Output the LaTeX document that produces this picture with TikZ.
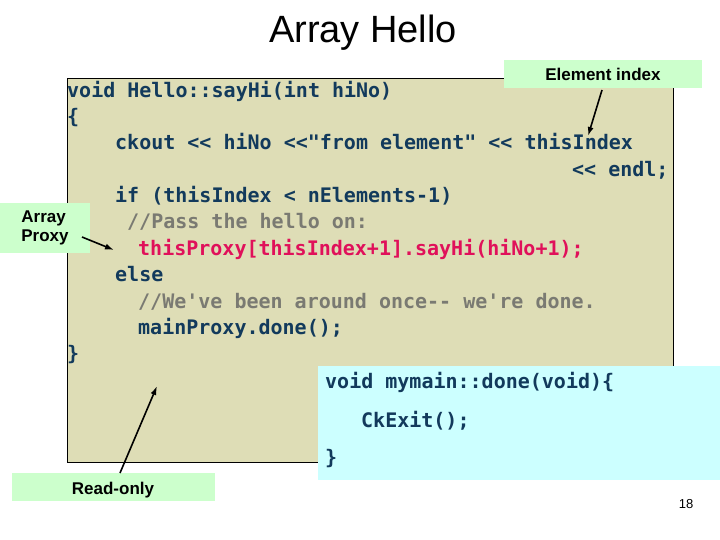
\documentclass[tikz,border=0pt]{standalone}
\usepackage{fontspec}
\setmainfont{Liberation Sans}
\newfontfamily\codefont{DejaVu Sans Mono}
\begin{document}
\begin{tikzpicture}[x=1pt,y=-1pt,
  code/.style={anchor=base west,inner sep=0pt,font=\codefont\bfseries\fontsize{20}{22}\selectfont,text=codeblue},
  cmt/.style={code,text=cmtgray},
  lbl/.style={fill=lblgreen,inner sep=0pt,font=\bfseries\fontsize{17}{19}\selectfont},
  arr/.style={-{Latex[length=9pt,width=6pt]},line width=1.6pt,black}]
\usetikzlibrary{arrows.meta}
\definecolor{codeblue}{HTML}{123A5C}
\definecolor{cmtgray}{HTML}{7A7A72}
\definecolor{codered}{HTML}{E0105A}
\definecolor{tan}{HTML}{DEDDB6}
\definecolor{lblgreen}{HTML}{CCFFCC}
\definecolor{cyanbox}{HTML}{CCFFFF}
\useasboundingbox (0,0) rectangle (720,540);
\node (title) at (363,33) {\fontsize{38}{42}\selectfont Array Hello};
\node (codebox) [draw=black,fill=tan,minimum width=606pt,minimum height=384pt,inner sep=0pt,anchor=north west] at (67,78) {};
\node (l1) [code] at (67,98) {void Hello::sayHi(int hiNo)};
\node (l2) [code] at (67,124) {\{};
\node (l3) [code] at (115,150) {ckout <<  hiNo <<"from element" << thisIndex};
\node (l4) [code] at (572,177) {<< endl;};
\node (l5) [code] at (115,203) {if (thisIndex < nElements-1)};
\node (l6) [cmt] at (127,229) {//Pass the hello on:};
\node (l7) [code,text=codered] at (138,255) {thisProxy[thisIndex+1].sayHi(hiNo+1);};
\node (l8) [code] at (115,281) {else};
\node (l9) [cmt] at (138,308) {//We've been around once-- we're done.};
\node (l10) [code] at (138,334) {mainProxy.done();};
\node (l11) [code] at (67,360) {\}};
\node (cyan) [fill=cyanbox,minimum width=402pt,minimum height=114pt,inner sep=0pt,anchor=north west] at (318,366) {};
\node (c1) [code] at (325,388) {void mymain::done(void)\{};
\node (c2) [code] at (361,427) {CkExit();};
\node (c3) [code] at (325,464) {\}};
\node (elem) [lbl,minimum width=198pt,minimum height=28pt] at (603,74) {Element index};
\node (proxy) [lbl,minimum width=90pt,minimum height=49pt,align=left] at (45,228) {Array\\Proxy};
\node (ro) [lbl,minimum width=203pt,minimum height=28pt,anchor=north west] at (12,473) {};
\node (rot) [anchor=base,font=\bfseries\fontsize{17}{19}\selectfont,inner sep=0pt] at (113,494) {Read-only};
\coordinate (ep) at (588,136);
\coordinate (pp) at (114,250);
\coordinate (rp) at (157,386);
\draw[arr] (602,90) -- (ep);
\draw[arr] (82,237) -- (pp);
\draw[arr] (120,473) -- (rp);
\node (num) at (686,504) {\fontsize{13}{15}\selectfont 18};
\end{tikzpicture}
\end{document}
